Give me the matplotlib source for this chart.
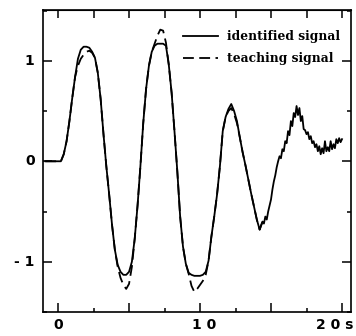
import numpy as np
import matplotlib.pyplot as plt
from matplotlib.ticker import MultipleLocator


# both signals sit at zero before the excitation starts
lead_in_time = -0.9

# identified signal, smooth part (0 .. 14.4 s, every 0.2 s)
identified_smooth = [
    0.0, 0.0, 0.07, 0.2, 0.4, 0.63, 0.84, 1.02, 1.11, 1.14,
    1.14, 1.13, 1.09, 1.03, 0.88, 0.62, 0.27, -0.05, -0.33, -0.63,
    -0.88, -1.03, -1.1, -1.13, -1.13, -1.1, -1.0, -0.77, -0.44, -0.05,
    0.38, 0.72, 0.95, 1.09, 1.15, 1.17, 1.17, 1.17, 1.15, 0.96,
    0.68, 0.3, -0.1, -0.55, -0.85, -1.02, -1.11, -1.13, -1.14, -1.14,
    -1.14, -1.13, -1.1, -0.99, -0.75, -0.55, -0.33, -0.05, 0.3, 0.44,
    0.52, 0.57, 0.5, 0.4, 0.24, 0.09, -0.04, -0.18, -0.32, -0.45,
    -0.58, -0.68, -0.6,
]

# identified signal, noisy tail (14.5 .. 20.0 s, every 0.1 s)
identified_tail = [
    -0.62, -0.55, -0.58, -0.5, -0.44, -0.38, -0.28, -0.2, -0.14, -0.06,
    0.0, 0.05, 0.03, 0.12, 0.1, 0.2, 0.18, 0.3, 0.26, 0.4,
    0.35, 0.48, 0.44, 0.55, 0.46, 0.53, 0.4, 0.45, 0.32, 0.31,
    0.27, 0.29, 0.22, 0.25, 0.18, 0.2, 0.14, 0.17, 0.1, 0.15,
    0.07, 0.13, 0.08, 0.2, 0.1, 0.14, 0.1, 0.2, 0.12, 0.17,
    0.13, 0.22, 0.18, 0.23, 0.19, 0.22,
]

# teaching signal (0 .. 14.4 s, every 0.2 s)
teaching = [
    0.0, 0.0, 0.07, 0.2, 0.4, 0.63, 0.84, 0.95, 1.02, 1.06,
    1.09, 1.1, 1.08, 1.03, 0.88, 0.62, 0.27, -0.05, -0.33, -0.63,
    -0.88, -1.05, -1.16, -1.23, -1.27, -1.22, -1.05, -0.77, -0.44, -0.05,
    0.38, 0.72, 0.95, 1.09, 1.17, 1.25, 1.31, 1.3, 1.18, 0.96,
    0.68, 0.3, -0.1, -0.55, -0.85, -1.02, -1.12, -1.24, -1.3, -1.27,
    -1.23, -1.19, -1.13, -0.99, -0.75, -0.55, -0.33, -0.05, 0.3, 0.44,
    0.5, 0.53, 0.47, 0.38, 0.24, 0.09, -0.04, -0.18, -0.32, -0.45,
    -0.58, -0.68, -0.6,
]

t_smooth = np.arange(len(identified_smooth)) * 0.2
t_tail = 14.5 + np.arange(len(identified_tail)) * 0.1
t_id = np.concatenate([[lead_in_time], t_smooth, t_tail])
y_id = np.concatenate([[0.0], identified_smooth, identified_tail])
t_teach = np.concatenate([[lead_in_time], np.arange(len(teaching)) * 0.2])
y_teach = np.concatenate([[0.0], teaching])

fig = plt.figure(figsize=(3.56, 3.36), dpi=100)
ax = fig.add_axes([0.1208, 0.0714, 0.865, 0.899])

ax.plot(t_teach, y_teach, color="black", lw=1.3, dashes=(6, 3),
        label="teaching signal")
ax.plot(t_id, y_id, color="black", lw=1.3, label="identified signal")

ax.set_xlim(-1.06, 20.63)
ax.set_ylim(-1.5, 1.506)

for side in ax.spines.values():
    side.set_linewidth(1.2)

ax.xaxis.set_major_locator(MultipleLocator(5))
ax.xaxis.set_minor_locator(MultipleLocator(2.5))
ax.yaxis.set_major_locator(MultipleLocator(1))
ax.yaxis.set_minor_locator(MultipleLocator(0.5))
ax.tick_params(which="both", direction="in", width=1.1,
               labelbottom=False, labelleft=False, right=True)
ax.tick_params(which="major", length=6.5)
ax.tick_params(which="minor", length=3)

top = ax.secondary_xaxis("top")
top.xaxis.set_major_locator(MultipleLocator(2.5))
top.tick_params(direction="in", length=6, width=1.1, labeltop=False)

tick_font = dict(family=["Liberation Sans Narrow", "DejaVu Sans"],
                 weight="bold", fontsize=10)
ax.text(0, -1.56, "0", ha="center", va="top", **tick_font)
ax.text(10.3, -1.56, "1 0", ha="center", va="top", **tick_font)
ax.text(19.5, -1.56, "2 0 s", ha="center", va="top", **tick_font)
ax.text(-1.65, 1, "1", ha="right", va="center", **tick_font)
ax.text(-1.65, 0, "0", ha="right", va="center", **tick_font)
ax.text(-1.65, -1, "- 1", ha="right", va="center", **tick_font)

handles, labels = ax.get_legend_handles_labels()
ax.legend(handles[::-1], labels[::-1], loc="upper left",
          bbox_to_anchor=(183 / 356, 1 - 30 / 336),
          bbox_transform=fig.transFigure, frameon=False,
          borderpad=0, borderaxespad=0, handlelength=2.9,
          handletextpad=0.7, labelspacing=0.75,
          prop=dict(family="DejaVu Serif", weight="bold", size=8.8))

fig.savefig("out.png", dpi=100)
